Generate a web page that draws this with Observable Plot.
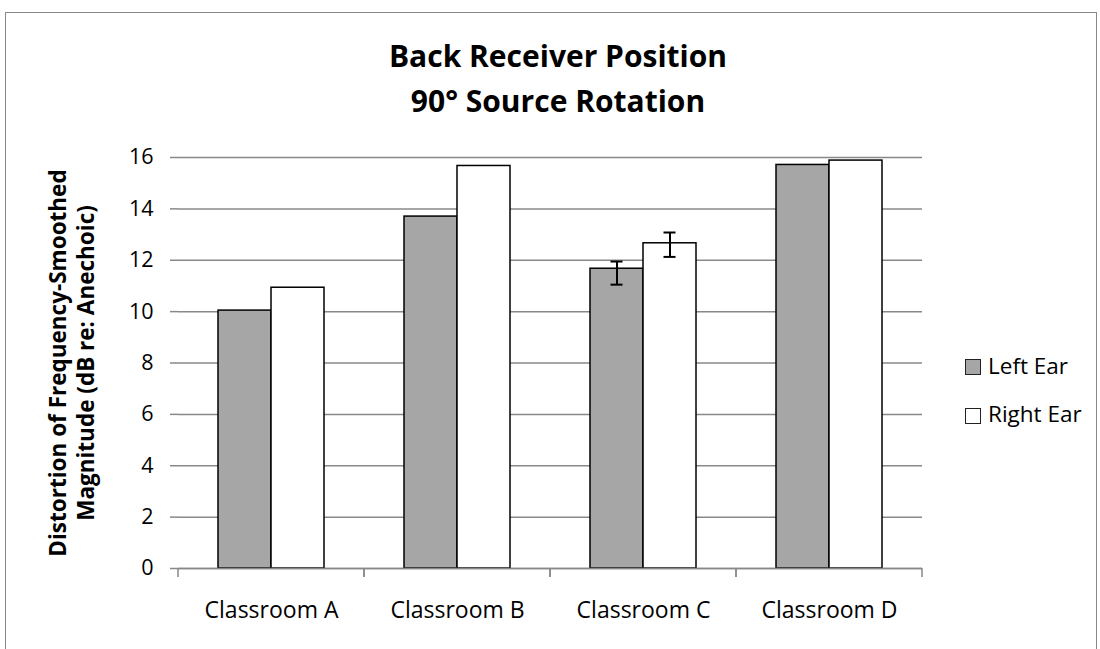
<!DOCTYPE html>
<html><head><meta charset="utf-8">
<script src="https://cdn.jsdelivr.net/npm/d3@7"></script>
<script src="https://cdn.jsdelivr.net/npm/@observablehq/plot@0.6"></script>
<style>
body{margin:0;background:#fff;font-family:"Open Sans",sans-serif;color:#000;}
#wrap{position:relative;width:1100px;height:649px;overflow:hidden;background:#fff;}
#frame{position:absolute;left:5px;top:12px;width:1092px;height:660px;border:1px solid #888;box-sizing:border-box;}
#title{position:absolute;left:208px;width:700px;top:32.6px;text-align:center;font-weight:bold;font-size:30px;line-height:45px;}
#ytitle{position:absolute;left:-178px;top:334.5px;width:500px;height:56px;line-height:28px;font-size:22.5px;font-weight:bold;text-align:center;transform:rotate(-90deg);white-space:nowrap;}
#chart{position:absolute;left:0;top:130px;}
.sw{position:absolute;left:965px;width:16px;height:16px;box-sizing:border-box;border:1.5px solid #222;}
.lt{position:absolute;left:988px;font-size:22.5px;line-height:22.5px;white-space:nowrap;}
</style>
</head><body>
<div id="wrap">
  <div id="frame"></div>
  <div id="title"></div>
  <div id="ytitle"></div>
  <div id="chart"></div>
  <div id="legend"></div>
</div>
<script>
const titleLines = ["Back Receiver Position", "90° Source Rotation"];
const yTitleLines = ["Distortion of Frequency-Smoothed", "Magnitude (dB re: Anechoic)"];
const classrooms = ["Classroom A", "Classroom B", "Classroom C", "Classroom D"];
const ears = ["Left Ear", "Right Ear"];
const earColors = ["#a6a6a6", "#ffffff"];
const leftEar = [10.04, 13.70, 11.67, 15.71];
const rightEar = [10.93, 15.67, 12.66, 15.88];
const leftErrLow = [null, null, 11.05, null];
const leftErrHigh = [null, null, 11.95, null];
const rightErrLow = [null, null, 12.13, null];
const rightErrHigh = [null, null, 13.08, null];
const yTicks = [0, 2, 4, 6, 8, 10, 12, 14, 16];

document.getElementById("title").innerHTML = titleLines.join("<br>");
document.getElementById("ytitle").innerHTML = yTitleLines.join("<br>");

const rows = [];
classrooms.forEach((c, i) => {
  rows.push({classroom: c, ear: ears[0], value: leftEar[i], lo: leftErrLow[i], hi: leftErrHigh[i]});
  rows.push({classroom: c, ear: ears[1], value: rightEar[i], lo: rightErrLow[i], hi: rightErrHigh[i]});
});
const errRows = rows.filter(d => d.lo != null && d.hi != null);

// boundary ticks below the x axis, drawn at each facet's edges
function boundaryTicks(index, scales, values, dimensions) {
  const {width, height, marginLeft, marginRight, marginBottom} = dimensions;
  const yb = height - marginBottom;
  const g = d3.create("svg:g").attr("stroke", "#888").attr("stroke-width", 1.5);
  for (const x of [marginLeft, width - marginRight]) {
    g.append("line").attr("x1", x).attr("x2", x).attr("y1", yb).attr("y2", yb + 9);
  }
  return g.node();
}

const chart = Plot.plot({
  width: 1100,
  height: 519,
  marginTop: 27,
  marginBottom: 81,
  marginLeft: 177,
  marginRight: 177,
  style: {fontFamily: "'Open Sans', sans-serif", fontSize: "21px", color: "#000", background: "transparent", overflow: "visible"},
  fx: {domain: classrooms, padding: 0, label: null},
  x: {domain: ears, paddingInner: 0, paddingOuter: 0.75, axis: null},
  y: {domain: [0, 16], axis: null},
  color: {domain: ears, range: earColors},
  marks: [
    Plot.gridY(yTicks, {stroke: "#888", strokeOpacity: 1, strokeWidth: 1.5}),
    Plot.barY(rows, {fx: "classroom", x: "ear", y: "value", fill: "ear", stroke: "#000", strokeWidth: 1.5}),
    Plot.ruleX(errRows, {fx: "classroom", x: "ear", y1: "lo", y2: "hi", stroke: "#000", strokeWidth: 2}),
    Plot.tickY(errRows, {fx: "classroom", x: "ear", y: "lo", stroke: "#000", strokeWidth: 2, inset: 20.5}),
    Plot.tickY(errRows, {fx: "classroom", x: "ear", y: "hi", stroke: "#000", strokeWidth: 2, inset: 20.5}),
    Plot.ruleY([0], {stroke: "#888", strokeWidth: 1.5}),
    boundaryTicks,
    Plot.axisY(yTicks, {anchor: "left", tickSize: 8, tickPadding: 17, stroke: "#888", strokeWidth: 1.5, line: true, label: null, fontSize: 21.5}),
    Plot.axisFx({anchor: "bottom", tickSize: 0, tickPadding: 33.5, label: null, fontSize: 23})
  ]
});
document.getElementById("chart").appendChild(chart);

// legend
const legend = document.getElementById("legend");
const swTops = [359, 408];
const txtTops = [355, 403];
ears.forEach((e, i) => {
  const sw = document.createElement("div");
  sw.className = "sw";
  sw.style.top = swTops[i] + "px";
  sw.style.background = earColors[i];
  legend.appendChild(sw);
  const t = document.createElement("div");
  t.className = "lt";
  t.style.top = txtTops[i] + "px";
  t.textContent = e;
  legend.appendChild(t);
});
</script>
</body></html>
